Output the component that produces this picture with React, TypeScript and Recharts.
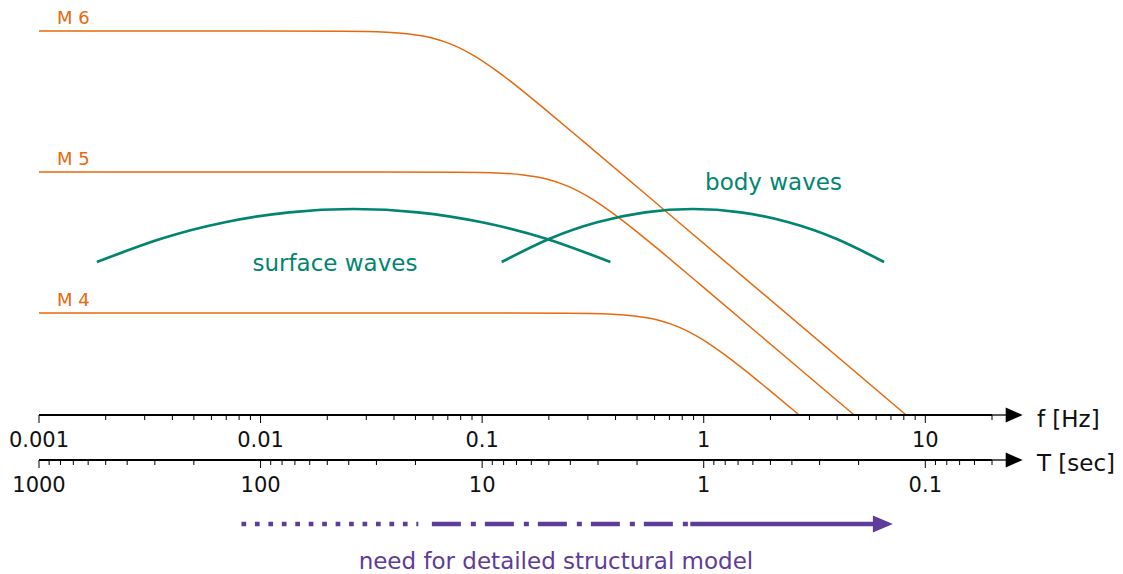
import React from 'react';
import { LineChart, Line, XAxis, YAxis, ReferenceLine, ReferenceDot } from 'recharts';

// ---- tick data ----
const fMajor = [0.001, 0.01, 0.1, 1, 10];
const fLabels = ['0.001', '0.01', '0.1', '1', '10'];
const fMinor = [
  0.002, 0.003, 0.004, 0.005, 0.006, 0.007, 0.008, 0.009,
  0.02, 0.03, 0.04, 0.05, 0.06, 0.07, 0.08, 0.09,
  0.2, 0.3, 0.4, 0.5, 0.6, 0.7, 0.8, 0.9,
  2, 3, 4, 5, 6, 7, 8, 9, 20,
];
const tLabels = ['1000', '100', '10', '1', '0.1'];
const tMinorPeriods = [
  900, 800, 700, 600, 500, 400, 300, 200,
  90, 80, 70, 60, 50, 40, 30, 20,
  9, 8, 7, 6, 5, 4, 3, 2,
  0.9, 0.8, 0.7, 0.6, 0.5, 0.4, 0.3, 0.2,
  0.09, 0.08, 0.07, 0.06, 0.05,
];

// ---- source spectra (frequency in Hz, log amplitude, arbitrary units) ----
const m6 = [
  { f: 0.001, y: 3.84 }, { f: 0.01, y: 3.84 }, { f: 0.0234, y: 3.838 }, { f: 0.0372, y: 3.828 },
  { f: 0.0468, y: 3.81 }, { f: 0.0589, y: 3.772 }, { f: 0.0741, y: 3.699 }, { f: 0.0933, y: 3.584 },
  { f: 0.1175, y: 3.434 }, { f: 0.148, y: 3.264 }, { f: 0.186, y: 3.083 }, { f: 0.295, y: 2.711 },
  { f: 0.741, y: 1.96 }, { f: 8.19, y: 0 },
];
const m5 = [
  { f: 0.001, y: 2.43 }, { f: 0.0316, y: 2.43 }, { f: 0.0769, y: 2.428 }, { f: 0.122, y: 2.418 },
  { f: 0.1535, y: 2.4 }, { f: 0.1932, y: 2.362 }, { f: 0.2432, y: 2.289 }, { f: 0.3062, y: 2.174 },
  { f: 0.3855, y: 2.024 }, { f: 0.4853, y: 1.854 }, { f: 0.611, y: 1.673 }, { f: 0.968, y: 1.301 },
  { f: 2.432, y: 0.55 }, { f: 4.775, y: 0 },
];
const m4 = [
  { f: 0.001, y: 1.02 }, { f: 0.1, y: 1.02 }, { f: 0.2443, y: 1.018 }, { f: 0.3873, y: 1.008 },
  { f: 0.4875, y: 0.99 }, { f: 0.6138, y: 0.952 }, { f: 0.7727, y: 0.879 }, { f: 0.9727, y: 0.764 },
  { f: 1.2246, y: 0.614 }, { f: 1.5417, y: 0.444 }, { f: 1.9409, y: 0.263 }, { f: 2.698, y: 0 },
];

// ---- wave bands ----
const surfaceWaves = [
  { f: 0.001824, y: 1.53 }, { f: 0.003556, y: 1.762 }, { f: 0.006918, y: 1.9275 },
  { f: 0.01349, y: 2.027 }, { f: 0.0263, y: 2.06 }, { f: 0.0513, y: 2.027 },
  { f: 0.09977, y: 1.9275 }, { f: 0.1945, y: 1.762 }, { f: 0.3793, y: 1.53 },
];
const bodyWaves = [
  { f: 0.1225, y: 1.53 }, { f: 0.2014, y: 1.762 }, { f: 0.3304, y: 1.9275 },
  { f: 0.5433, y: 2.027 }, { f: 0.8933, y: 2.06 }, { f: 1.469, y: 2.027 },
  { f: 2.415, y: 1.9275 }, { f: 3.963, y: 1.762 }, { f: 6.516, y: 1.53 },
];

// ---- structural model arrow (frequency ranges) ----
const dottedRange = [0.0082, 0.0515];
const dashDotRange = [0.0593, 0.87];
const solidRange = [0.87, 5.9];
const arrowHeadF = 5.8;

const ORANGE = '#e8690c';
const GREEN = '#018571';
const PURPLE = '#5e3c99';
const FONT = 'DejaVu Sans';
const FX = 'a_freq';
const TX = 'b_period';

const isMajor = (v: number) => Math.abs(Math.log10(v) - Math.round(Math.log10(v))) < 1e-6;

const makeTick = (labels: string[]) => (props: any) => {
  const { x, y, payload } = props;
  const v = payload.value;
  const major = isMajor(v);
  const idx = fMajor.findIndex((m) => Math.abs(m - v) / m < 1e-6);
  return (
    <g>
      <line x1={x} x2={x} y1={y} y2={y + (major ? 8 : 5)} stroke="#000" strokeWidth={1} />
      {major && idx >= 0 && (
        <text x={x} y={y + 31.5} textAnchor="middle" fontSize={21} fontFamily={FONT} fill="#111">
          {labels[idx]}
        </text>
      )}
    </g>
  );
};
const FTick = makeTick(fLabels);
const TTick = makeTick(tLabels);

const textShape = (txt: string, color: string, size: number, anchor: string) => (p: any) => (
  <text x={p.cx} y={p.cy} fill={color} fontSize={size} fontFamily={FONT} textAnchor={anchor}>
    {txt}
  </text>
);

const axisArrow = (p: any) => (
  <polygon
    points={`${p.cx - 1},${p.cy - 7.5} ${p.cx + 16},${p.cy} ${p.cx - 1},${p.cy + 7.5}`}
    fill="#000"
  />
);

const purpleArrow = (p: any) => (
  <polygon
    points={`${p.cx},${p.cy - 8.5} ${p.cx + 20},${p.cy} ${p.cx},${p.cy + 8.5}`}
    fill={PURPLE}
  />
);

const fTicksAll = [...fMajor, ...fMinor].sort((a, b) => a - b);
const tTicksAll = [...fMajor, ...tMinorPeriods.map((t) => 1 / t)].sort((a, b) => a - b);

const AXIS_EXT_F = 23.3;
const ARROW_Y = -1.09;

export default function App() {
  return (
    <div style={{ position: 'absolute', left: 0, top: 0, width: 1123, height: 574, background: '#fff' }}>
      <LineChart width={1123} height={574} margin={{ top: 15, right: 131, bottom: 69, left: 39 }}>
        <XAxis
          xAxisId={FX}
          dataKey="f"
          type="number"
          scale="log"
          domain={[0.001, 20]}
          allowDataOverflow
          ticks={fTicksAll}
          interval={0}
          tick={<FTick />}
          tickLine={false}
          tickSize={0}
          tickMargin={0}
          axisLine={{ stroke: '#000', strokeWidth: 2 }}
          height={45}
        />
        <XAxis
          xAxisId={TX}
          dataKey="f"
          type="number"
          scale="log"
          domain={[0.001, 20]}
          allowDataOverflow
          ticks={tTicksAll}
          interval={0}
          tick={<TTick />}
          tickLine={false}
          tickSize={0}
          tickMargin={0}
          axisLine={{ stroke: '#000', strokeWidth: 2 }}
          height={45}
        />
        <YAxis hide type="number" domain={[0, 4]} />

        <Line xAxisId={FX} data={m6} dataKey="y" type="monotone" stroke={ORANGE} strokeWidth={1.5} dot={false} isAnimationActive={false} />
        <Line xAxisId={FX} data={m5} dataKey="y" type="monotone" stroke={ORANGE} strokeWidth={1.5} dot={false} isAnimationActive={false} />
        <Line xAxisId={FX} data={m4} dataKey="y" type="monotone" stroke={ORANGE} strokeWidth={1.5} dot={false} isAnimationActive={false} />
        <Line xAxisId={FX} data={surfaceWaves} dataKey="y" type="natural" stroke={GREEN} strokeWidth={2.7} dot={false} isAnimationActive={false} />
        <Line xAxisId={FX} data={bodyWaves} dataKey="y" type="natural" stroke={GREEN} strokeWidth={2.7} dot={false} isAnimationActive={false} />

        {/* axis extensions and arrowheads */}
        <ReferenceLine xAxisId={FX} ifOverflow="visible" segment={[{ x: 20, y: 0 }, { x: AXIS_EXT_F, y: 0 }]} stroke="#000" strokeWidth={1.3} />
        <ReferenceLine xAxisId={FX} ifOverflow="visible" segment={[{ x: 20, y: -0.45 }, { x: AXIS_EXT_F, y: -0.45 }]} stroke="#000" strokeWidth={1.3} />
        <ReferenceDot xAxisId={FX} ifOverflow="visible" x={AXIS_EXT_F} y={0} r={0} shape={axisArrow} />
        <ReferenceDot xAxisId={FX} ifOverflow="visible" x={AXIS_EXT_F} y={-0.45} r={0} shape={axisArrow} />
        <ReferenceDot xAxisId={FX} ifOverflow="visible" x={31.9} y={-0.117} r={0} shape={textShape('f [Hz]', '#111', 23, 'start')} />
        <ReferenceDot xAxisId={FX} ifOverflow="visible" x={31.9} y={-0.56} r={0} shape={textShape('T [sec]', '#111', 23, 'start')} />

        {/* labels */}
        <ReferenceDot xAxisId={FX} ifOverflow="visible" x={0.001206} y={3.91} r={0} shape={textShape('M 6', ORANGE, 18, 'start')} />
        <ReferenceDot xAxisId={FX} ifOverflow="visible" x={0.001206} y={2.5} r={0} shape={textShape('M 5', ORANGE, 18, 'start')} />
        <ReferenceDot xAxisId={FX} ifOverflow="visible" x={0.001206} y={1.09} r={0} shape={textShape('M 4', ORANGE, 18, 'start')} />
        <ReferenceDot xAxisId={FX} ifOverflow="visible" x={0.02166} y={1.44} r={0} shape={textShape('surface waves', GREEN, 23, 'middle')} />
        <ReferenceDot xAxisId={FX} ifOverflow="visible" x={2.064} y={2.25} r={0} shape={textShape('body waves', GREEN, 23, 'middle')} />

        {/* structural model arrow */}
        <ReferenceLine xAxisId={FX} ifOverflow="visible" segment={[{ x: dottedRange[0], y: ARROW_Y }, { x: dottedRange[1], y: ARROW_Y }]} stroke={PURPLE} strokeWidth={4.5} strokeDasharray="4.7 8.75" />
        <ReferenceLine xAxisId={FX} ifOverflow="visible" segment={[{ x: dashDotRange[0], y: ARROW_Y }, { x: dashDotRange[1], y: ARROW_Y }]} stroke={PURPLE} strokeWidth={4.5} strokeDasharray="29 10 5 9" />
        <ReferenceLine xAxisId={FX} ifOverflow="visible" segment={[{ x: solidRange[0], y: ARROW_Y }, { x: solidRange[1], y: ARROW_Y }]} stroke={PURPLE} strokeWidth={4.5} />
        <ReferenceDot xAxisId={FX} ifOverflow="visible" x={arrowHeadF} y={ARROW_Y} r={0} shape={purpleArrow} />
        <ReferenceDot xAxisId={FX} ifOverflow="visible" x={0.2153} y={-1.54} r={0} shape={textShape('need for detailed structural model', PURPLE, 23, 'middle')} />
      </LineChart>
    </div>
  );
}
